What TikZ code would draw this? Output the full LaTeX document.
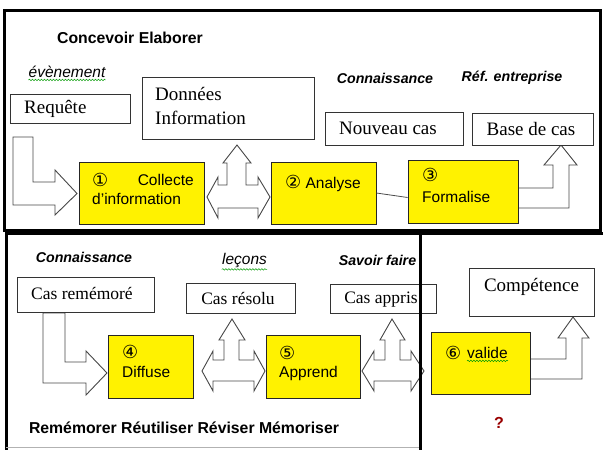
\documentclass[tikz,border=0pt]{standalone}
\usepackage{fontspec}
\setmainfont{Liberation Serif}
\setsansfont{Liberation Sans}
\newfontfamily\cdigfont{DejaVu Sans}
\newcommand{\cdig}{\cdigfont\fontsize{18}{19}\selectfont}
\usetikzlibrary{decorations.pathmorphing}
\begin{document}
\begin{tikzpicture}[x=1pt,y=-1pt,
  frame/.style={line width=3pt, line cap=rect},
  wbox/.style={draw=black!80, line width=0.8pt, fill=white, inner sep=0pt},
  ybox/.style={draw=black!85, line width=0.8pt, fill=yellow, inner sep=0pt},
  barrow/.style={draw=black!72, line width=0.9pt, fill=white, line join=miter},
  serifA/.style={font=\fontsize{19}{24}\selectfont, inner sep=0pt},
  serifB/.style={font=\fontsize{17.5}{21}\selectfont, inner sep=0pt},
  body/.style={font=\sffamily\fontsize{15.5}{19}\selectfont, inner sep=0pt},
  title/.style={font=\sffamily\bfseries\fontsize{15.8}{19}\selectfont, inner sep=0pt},
  lbl/.style={font=\sffamily\bfseries\itshape\fontsize{14.2}{17}\selectfont, inner sep=0pt},
  lblr/.style={font=\sffamily\itshape\fontsize{15.5}{18}\selectfont, inner sep=0pt},
  spell/.style={green!60!black, line width=0.5pt, decorate, decoration={snake, amplitude=0.8pt, segment length=3pt}},
  thin/.style={draw=black!70, line width=0.8pt}
]
\useasboundingbox (0,0) rectangle (603,450);
% frames
\draw[frame] (4.5,10) rectangle (600,230);
\draw[frame] (6,233) -- (603,233);
\draw[frame] (6,233) -- (6,450);
\draw[black!30, line width=0.8pt] (6,447) -- (420,447);

% ---------- top section ----------
\node[title] (t1) at (130,38) {Concevoir Elaborer};
\node[lblr] (evt) at (67,72) {évènement};
\draw[spell] ([yshift=-2pt]evt.south west) -- ([yshift=-2pt]evt.south east);
\node[lbl] (conn1) at (385,78) {Connaissance};
\node[lbl] (ref) at (512,78) {Réf. entreprise};

% block arrows (top)
\draw[barrow] (13,137) -- (33,137) -- (33,182) -- (55,182) -- (55,170) -- (77,193.5) -- (55,215) -- (55,205) -- (13,205) -- cycle;
\draw[barrow] (207,197) -- (218,177) -- (218,185) -- (227,185) -- (227,163) -- (223,163) -- (237,145) -- (251,163) -- (246,163) -- (246,185) -- (258,185) -- (258,177) -- (270,197) -- (258,218) -- (258,208) -- (218,208) -- (218,218) -- cycle;
\draw[barrow] (518,188) -- (553,188) -- (553,165) -- (544,165) -- (561,145) -- (577,165) -- (569,165) -- (569,208) -- (518,208);

\node[wbox, minimum width=120pt, minimum height=29pt] (req) at (70,108.5) {};
\node[serifA, anchor=west] (reqt) at (24,109) {Requête};
\node[wbox, minimum width=172pt, minimum height=62pt] (don) at (228,108) {};
\node[serifA, anchor=west, align=left] (dont) at (155,106) {Données\\Information};
\node[wbox, minimum width=138pt, minimum height=33pt] (nouv) at (394,128.5) {};
\node[serifA] (nouvt) at (388,128) {Nouveau cas};
\node[wbox, minimum width=121pt, minimum height=32pt] (base) at (532.5,129) {};
\node[serifA] (baset) at (531,129) {Base de cas};

\node[ybox, minimum width=125pt, minimum height=62pt] (c1) at (141.5,193) {};
\node[body, anchor=west] (c1a) at (92,180) {\cdig ①};
\node[body, anchor=east] (c1b) at (194,180) {Collecte};
\node[body, anchor=west] (c1c) at (92,199) {d’information};
\node[ybox, minimum width=105pt, minimum height=62pt] (c2) at (323.5,193) {};
\node[body, anchor=west] (c2t) at (285,183) {{\cdig ②} Analyse};
\node[ybox, minimum width=110pt, minimum height=63pt] (c3) at (463,191.5) {};
\node[body, anchor=west] (c3a) at (422,175) {\cdig ③};
\node[body, anchor=west] (c3b) at (422,197) {Formalise};
\draw[thin] (c2.east) -- ([yshift=-6pt]c3.west);

% ---------- bottom section ----------
\node[lbl] (conn2) at (84,257) {Connaissance};
\node[lblr] (lec) at (244.5,260) {leçons};
\draw[spell] ([yshift=-2pt]lec.south west) -- ([yshift=-2pt]lec.south east);
\node[lbl] (sav) at (377.5,260) {Savoir faire};

% block arrows (bottom)
\draw[barrow] (43,313) -- (65,313) -- (65,362) -- (86,362) -- (86,351) -- (107,373) -- (86,395) -- (86,383) -- (43,383) -- cycle;
\draw[barrow] (202,371) -- (213,351) -- (213,360) -- (224,360) -- (224,340) -- (219,340) -- (232,319) -- (245,340) -- (239,340) -- (239,360) -- (254,360) -- (254,351) -- (265,371) -- (254,391) -- (254,381) -- (213,381) -- (213,391) -- cycle;
\draw[barrow] (362,371) -- (374,351) -- (374,360) -- (385,360) -- (385,340) -- (380,340) -- (392,319) -- (405,340) -- (400,340) -- (400,360) -- (411,360) -- (411,351) -- (424,371) -- (411,391) -- (411,381) -- (374,381) -- (374,391) -- cycle;
\draw[barrow] (530,359) -- (566,359) -- (566,338) -- (558,338) -- (573,317) -- (589,338) -- (582,338) -- (582,379) -- (530,379);

\node[wbox, minimum width=137pt, minimum height=35pt] (crem) at (85.5,294.5) {};
\node[serifB, anchor=west] (cremt) at (31,293) {Cas remémoré};
\node[wbox, minimum width=109pt, minimum height=30pt] (cres) at (240.5,298) {};
\node[serifB] (crest) at (238,298) {Cas résolu};
\node[wbox, minimum width=106pt, minimum height=29pt] (capp) at (383,298.5) {};
\node[serifB] (cappt) at (381,300) {Cas appris};
\node[wbox, minimum width=125pt, minimum height=48pt] (comp) at (531.5,292) {};
\node[serifA] (compt) at (531.5,287) {Compétence};

\node[ybox, minimum width=85pt, minimum height=63pt] (c4) at (150.5,366.5) {};
\node[body, anchor=west] (c4a) at (122,352) {\cdig ④};
\node[body, anchor=west] (c4b) at (122,372) {Diffuse};
\node[ybox, minimum width=94pt, minimum height=63pt] (c5) at (313,366.5) {};
\node[body, anchor=west] (c5a) at (279,353) {\cdig ⑤};
\node[body, anchor=west] (c5b) at (279,373) {Apprend};
\node[ybox, minimum width=99pt, minimum height=62pt] (c6) at (480.5,363) {};
\node[body, anchor=west] (c6a) at (445,353) {\cdig ⑥};
\node[body, anchor=west] (c6b) at (467,353) {valide};
\draw[spell] ([yshift=-2pt]c6b.south west) -- ([yshift=-2pt]c6b.south east);

\node[title] (t2) at (184,428) {Remémorer Réutiliser Réviser Mémoriser};
\node[font=\sffamily\bfseries\fontsize{16}{19}\selectfont, text=red!60!black, inner sep=0pt] (q) at (499,423) {?};

% divider on top
\draw[frame] (420,233) -- (420,450);
\end{tikzpicture}
\end{document}
